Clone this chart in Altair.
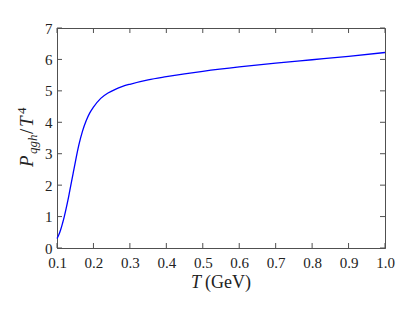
import altair as alt
import pandas as pd

T = [0.100, 0.105, 0.110, 0.115, 0.120, 0.125, 0.130, 0.135, 0.140, 0.145,
     0.150, 0.160, 0.170, 0.180, 0.190, 0.200, 0.220, 0.240, 0.260, 0.280,
     0.300, 0.350, 0.400, 0.450, 0.500, 0.600, 0.700, 0.800, 0.900, 1.000]
P = [0.30, 0.42, 0.58, 0.78, 1.00, 1.25, 1.52, 1.82, 2.12, 2.42,
     2.72, 3.28, 3.72, 4.05, 4.30, 4.48, 4.76, 4.93, 5.05, 5.14,
     5.21, 5.35, 5.45, 5.54, 5.62, 5.76, 5.88, 5.99, 6.10, 6.22]
x_ticks = [0.1, 0.2, 0.3, 0.4, 0.5, 0.6, 0.7, 0.8, 0.9, 1.0]
y_ticks = [0, 1, 2, 3, 4, 5, 6, 7]

W, H = 328, 220
TL = 5
FONT = "'Liberation Serif', 'DejaVu Serif', serif"
AX = "#505050"
LBL = "#222222"

df = pd.DataFrame({"T": T, "P": P})
dfx = pd.DataFrame({"T": x_ticks})
dfy = pd.DataFrame({"P": y_ticks})
one = pd.DataFrame({"a": [0]})

xscale = alt.Scale(domain=[0.1, 1.0], nice=False, zero=False)
yscale = alt.Scale(domain=[0, 7], nice=False)
xaxis = alt.Axis(values=x_ticks, format=".1f", title=None, tickSize=0,
                 labelPadding=7, labelFlush=False, labelOverlap=False,
                 labelFont=FONT, labelFontSize=15, labelColor=LBL, grid=False)
yaxis = alt.Axis(values=y_ticks, format="d", title=None, tickSize=0,
                 labelPadding=5, labelFlush=False, labelOverlap=False,
                 labelFont=FONT, labelFontSize=15, labelColor=LBL, grid=False)

X = alt.X("T:Q", scale=xscale, axis=xaxis)
Y = alt.Y("P:Q", scale=yscale, axis=yaxis)

line = alt.Chart(df).mark_line(color="#0000ff", strokeWidth=1.3, interpolate="monotone").encode(
    x=X, y=Y)

xt_bot = alt.Chart(dfx).mark_rule(color=AX, strokeWidth=1).encode(
    x=X, y=alt.value(H), y2=alt.value(H - TL))
xt_top = alt.Chart(dfx).mark_rule(color=AX, strokeWidth=1).encode(
    x=X, y=alt.value(0), y2=alt.value(TL))
yt_left = alt.Chart(dfy).mark_rule(color=AX, strokeWidth=1).encode(
    y=Y, x=alt.value(0), x2=alt.value(TL))
yt_right = alt.Chart(dfy).mark_rule(color=AX, strokeWidth=1).encode(
    y=Y, x=alt.value(W), x2=alt.value(W - TL))

def txt(s, x, y, size, italic=False, angle=0):
    kw = dict(text=s, font=FONT, fontSize=size, color=LBL, align="left",
              baseline="alphabetic")
    if italic:
        kw["fontStyle"] = "italic"
    if angle:
        kw["angle"] = angle
    return alt.Chart(one).mark_text(**kw).encode(x=alt.value(x), y=alt.value(y))

labels = [
    # y-axis title P_qgh / T^4 (rotated)
    txt("P", -24, 139, 19, True, 270),
    txt("qgh", -20, 126, 13, True, 270),
    txt("/", -24, 106, 19, False, 270),
    txt("T", -24, 99, 19, True, 270),
    txt("4", -31, 86, 13, False, 270),
    # x-axis title T (GeV)
    txt("T", 134, 260, 18, True),
    txt("(GeV)", 148, 260, 18, False),
]

chart = alt.layer(line, xt_bot, xt_top, yt_left, yt_right, *labels).properties(
    width=W, height=H,
    autosize=alt.AutoSizeParams(type="none"),
    padding={"left": 49, "top": 20, "right": 22, "bottom": 56},
).configure_view(stroke=AX, strokeWidth=1).configure_axis(
    domainColor=AX, domainWidth=1,
)

chart.save("out.html", embed_options={"renderer": "svg", "actions": False})
